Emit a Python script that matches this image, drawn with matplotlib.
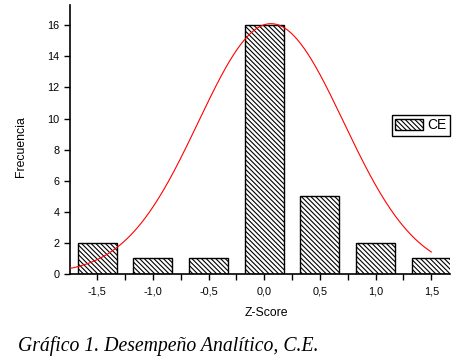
import numpy as np
import matplotlib
matplotlib.use("Agg")
import matplotlib.pyplot as plt

# ── Data ───────────────────────────────────────────────────────────
z_scores = [-1.5, -1.0, -0.5, 0.0, 0.5, 1.0, 1.5]
frecuencia = [2, 1, 1, 16, 5, 2, 1]
tick_labels = ["-1,5", "-1,0", "-0,5", "0,0", "0,5", "1,0", "1,5"]

# fitted normal curve
fit_amp = 16.1
fit_mu = 0.06
fit_sigma = 0.653
fit_range = (-1.745, 1.5)

plt.rcParams["font.family"] = ["Liberation Sans", "DejaVu Sans"]
plt.rcParams["hatch.linewidth"] = 0.8
plt.rcParams["hatch.color"] = "#333333"

fig = plt.figure(figsize=(4.58, 3.58), dpi=100)
ax = fig.add_axes([70 / 458, 84 / 358, 380 / 458, 269 / 358])

ax.bar(z_scores, frecuencia, width=0.35, color="white", edgecolor="black",
       linewidth=1.0, hatch="\\" * 7, label="CE", zorder=2)

xs = np.linspace(fit_range[0], fit_range[1], 300)
ys = fit_amp * np.exp(-(xs - fit_mu) ** 2 / (2 * fit_sigma ** 2))
ax.plot(xs, ys, color="red", linewidth=0.8, zorder=3)

ax.set_xlim(-1.745, 1.668)
ax.set_ylim(0, 17.3)
ax.set_xticks(z_scores)
ax.set_xticklabels(tick_labels)
ax.set_xticks([-1.25, -0.75, -0.25, 0.25, 0.75, 1.25], minor=True)
ax.set_yticks(range(0, 17, 2))
ax.tick_params(axis="both", direction="out", labelsize=7.8, length=4, width=1)
ax.tick_params(axis="x", which="minor", length=4, width=1)
ax.tick_params(axis="x", which="major", pad=5)

for s in ["top", "right"]:
    ax.spines[s].set_visible(False)
for s in ["left", "bottom"]:
    ax.spines[s].set_linewidth(1.2)

ax.set_xlabel("Z-Score", fontsize=8.8)
ax.set_ylabel("Frecuencia", fontsize=8.8)
ax.xaxis.set_label_coords(0.516, -0.123)
ax.yaxis.set_label_coords(-0.113, 0.472)

leg = ax.legend(loc="upper right", bbox_to_anchor=(450 / 458, 1 - 115 / 358),
                bbox_transform=fig.transFigure, fontsize=10, fancybox=False,
                edgecolor="black", framealpha=1, handlelength=2.0,
                handleheight=0.8, borderaxespad=0, borderpad=0.25,
                handletextpad=0.3)
leg.get_frame().set_linewidth(1.0)

fig.text(18 / 458, 7 / 358, "Gráfico 1. Desempeño Analítico, C.E.",
         family=["Liberation Serif", "DejaVu Serif"], style="italic",
         fontsize=14.2, va="baseline", ha="left")

fig.savefig("out.png", dpi=100)
